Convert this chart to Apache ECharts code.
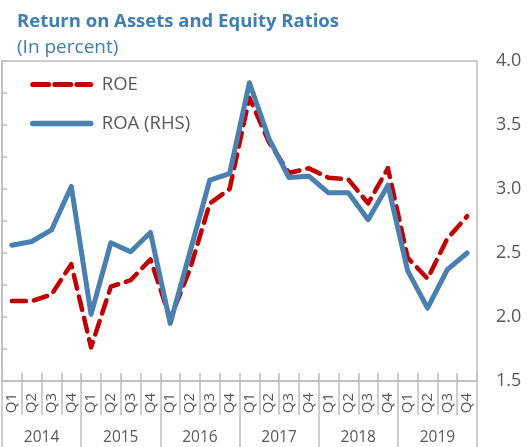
<!DOCTYPE html>
<html>
<head>
<meta charset="utf-8">
<script src="https://cdn.jsdelivr.net/npm/echarts@6/dist/echarts.min.js"></script>
<style>
  html, body { margin: 0; padding: 0; background: #fff; }
  #chart { width: 532px; height: 447px; }
</style>
</head>
<body>
<div id="chart"></div>
<script>
// data
const years = ["2014", "2015", "2016", "2017", "2018", "2019"];
const quarters = ["Q1", "Q2", "Q3", "Q4"];
const roe = [15.0, 15.0, 15.4, 17.3, 12.1, 15.9, 16.3, 17.6, 13.9, 17.0, 21.1, 22.0,
             27.7, 24.9, 23.0, 23.3, 22.7, 22.6, 21.1, 23.3, 17.7, 16.4, 18.9, 20.3];
const roa = [2.56, 2.59, 2.68, 3.02, 2.02, 2.58, 2.51, 2.66, 1.95, 2.51, 3.07, 3.12,
             3.83, 3.39, 3.09, 3.10, 2.97, 2.97, 2.76, 3.03, 2.36, 2.07, 2.37, 2.50];

const qLabels = [];
years.forEach(() => quarters.forEach(q => qLabels.push(q)));

const FONT = "Open Sans";
const GRAY = "#bfbfbf";
const TXT = "#595959";
const RED = "#c00000";
const BLUE = "#4a80b0";

const chart = echarts.init(document.getElementById("chart"), null, { renderer: "canvas" });
chart.setOption({
  animation: false,
  textStyle: { fontFamily: FONT },
  title: [
    { text: "Return on Assets and Equity Ratios", left: 12, top: 7,
      textStyle: { color: "#3f7fb5", fontSize: 18.5, fontWeight: "bold", fontFamily: FONT } },
    { text: "(In percent)", left: 12, top: 33,
      textStyle: { color: "#3f7fb5", fontSize: 19, fontWeight: "normal", fontFamily: FONT } }
  ],
  legend: {
    orient: "vertical", left: 25, top: 70, itemGap: 20,
    itemWidth: 58, itemHeight: 18,
    textStyle: { color: TXT, fontSize: 18.5, fontFamily: FONT, padding: [0, 0, 0, 6] },
    data: [
      { name: "ROE", itemStyle: { opacity: 0 },
        lineStyle: { color: RED, width: 5, type: [16, 6], cap: "round" } },
      { name: "ROA (RHS)", itemStyle: { opacity: 0 },
        lineStyle: { color: BLUE, width: 5.5, cap: "round" } }
    ]
  },
  grid: { left: 2, right: 55, top: 61, bottom: 66, show: true, borderColor: GRAY, borderWidth: 1.5 },
  xAxis: [
    { type: "category", data: qLabels, position: "bottom", boundaryGap: true,
      axisLine: { show: true, lineStyle: { color: GRAY, width: 1.5 } },
      axisTick: { show: true, interval: 0, length: 34, lineStyle: { color: GRAY, width: 1.5 } },
      axisLabel: { interval: 0, rotate: 90, margin: 12, color: TXT, fontSize: 15, fontFamily: FONT },
      splitLine: { show: false } },
    { type: "category", data: qLabels, position: "bottom", boundaryGap: true,
      axisLine: { show: false },
      axisTick: { show: true, inside: true, interval: 0, length: 8, lineStyle: { color: GRAY, width: 1.5 } },
      axisLabel: { show: false }, splitLine: { show: false } },
    { type: "category", data: years, position: "bottom", boundaryGap: true,
      axisLine: { show: false },
      axisTick: { show: true, interval: 0, length: 66, lineStyle: { color: GRAY, width: 1.5 } },
      axisLabel: { interval: 0, margin: 49, color: TXT, fontSize: 15.5, fontFamily: FONT },
      splitLine: { show: false } }
  ],
  yAxis: [
    { type: "value", min: 10, max: 30, interval: 2, position: "left",
      axisLine: { show: true, lineStyle: { color: GRAY, width: 1.5 } },
      axisTick: { show: true, inside: true, length: 5, lineStyle: { color: GRAY, width: 1.5 } },
      axisLabel: { show: false }, splitLine: { show: false } },
    { type: "value", min: 1.5, max: 4.0, interval: 0.5, position: "right",
      axisLine: { show: false }, axisTick: { show: false },
      axisLabel: { margin: 19, color: TXT, fontSize: 18, fontFamily: FONT,
        formatter: v => v.toFixed(1) },
      splitLine: { show: false } }
  ],
  series: [
    { name: "ROE", type: "line", xAxisIndex: 0, yAxisIndex: 0, data: roe,
      symbol: "none", color: RED,
      lineStyle: { color: RED, width: 4.5, type: [14, 8], cap: "round", join: "round" } },
    { name: "ROA (RHS)", type: "line", xAxisIndex: 0, yAxisIndex: 1, data: roa,
      symbol: "none", color: BLUE,
      lineStyle: { color: BLUE, width: 5, cap: "round", join: "round" } }
  ]
});
</script>
</body>
</html>
